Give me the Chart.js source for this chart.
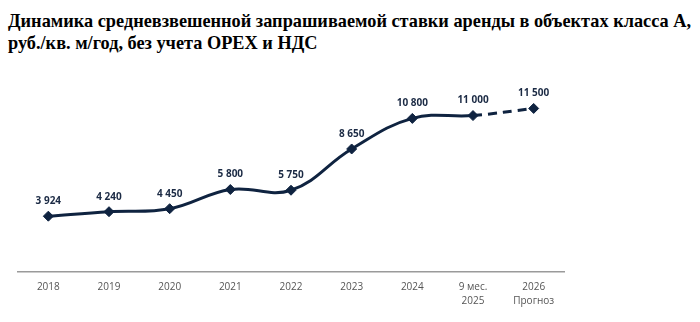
<!DOCTYPE html>
<html>
<head>
<meta charset="utf-8">
<script src="https://cdn.jsdelivr.net/npm/chart.js@4"></script>
<style>
  html, body { margin: 0; padding: 0; background: #fff; }
  #wrap { position: relative; width: 700px; height: 322px; overflow: hidden; }
  #title {
    position: absolute; left: 8px; top: 10px; width: 692px;
    font-family: "Liberation Serif", "Times New Roman", serif;
    font-weight: bold; font-size: 18.3px; line-height: 22px; color: #000;
    white-space: nowrap;
  }
  canvas { position: absolute; left: 0; top: 0; }
</style>
</head>
<body>
<div id="wrap">
  <div id="title">Динамика средневзвешенной запрашиваемой ставки аренды в объектах класса А,<br>руб./кв. м/год, без учета OPEX и НДС</div>
  <canvas id="c" width="700" height="322"></canvas>
</div>
<script>
// Periods on the horizontal axis (multi-line labels as arrays)
const categories = [
  '2018', '2019', '2020', '2021', '2022', '2023', '2024',
  ['9 мес.', '2025'], ['2026', 'Прогноз']
];
// Weighted average asking rent, RUB per sq. m per year
const rentValues = [3924, 4240, 4450, 5800, 5750, 8650, 10800, 11000, 11500];
// Index of the first forecast segment (drawn dashed)
const forecastFrom = 7;

const lineColor = '#0f2340';

// Writes each point's value above its marker
const valueLabels = {
  id: 'valueLabels',
  afterDatasetsDraw(chart) {
    const { ctx } = chart;
    const meta = chart.getDatasetMeta(0);
    const data = chart.data.datasets[0].data;
    ctx.save();
    ctx.font = 'bold 10px "Open Sans", sans-serif';
    ctx.fillStyle = '#1b2a44';
    ctx.textAlign = 'center';
    ctx.textBaseline = 'bottom';
    meta.data.forEach((pt, i) => {
      const txt = data[i].toLocaleString('ru-RU').replace(/\s/g, ' ');
      ctx.fillText(txt, pt.x, pt.y - 10);
    });
    ctx.restore();
  }
};

new Chart(document.getElementById('c'), {
  type: 'line',
  data: {
    labels: categories,
    datasets: [{
      data: rentValues,
      borderColor: lineColor,
      backgroundColor: lineColor,
      borderWidth: 3,
      tension: 0.4,
      pointStyle: 'rectRot',
      pointRadius: 5,
      pointBorderWidth: 1,
      pointBackgroundColor: lineColor,
      pointBorderColor: lineColor,
      segment: {
        borderDash: c => c.p0DataIndex >= forecastFrom ? [9, 6] : undefined
      }
    }]
  },
  options: {
    responsive: false,
    animation: false,
    devicePixelRatio: 1,
    layout: { padding: { left: 18, right: 136, top: 80, bottom: 0 } },
    plugins: { legend: { display: false }, tooltip: { enabled: false } },
    scales: {
      x: {
        offset: true,
        grid: { display: false, drawTicks: false },
        border: { display: true, color: '#9a9a9a', width: 1.5 },
        ticks: {
          color: '#555555',
          padding: 8,
          maxRotation: 0,
          autoSkip: false,
          font: { family: '"Open Sans", sans-serif', size: 10, lineHeight: 1.4 }
        },
        afterFit(scale) { scale.height = 50; }
      },
      y: {
        display: false,
        min: 0,
        max: 13500
      }
    }
  },
  plugins: [valueLabels]
});
</script>
</body>
</html>
